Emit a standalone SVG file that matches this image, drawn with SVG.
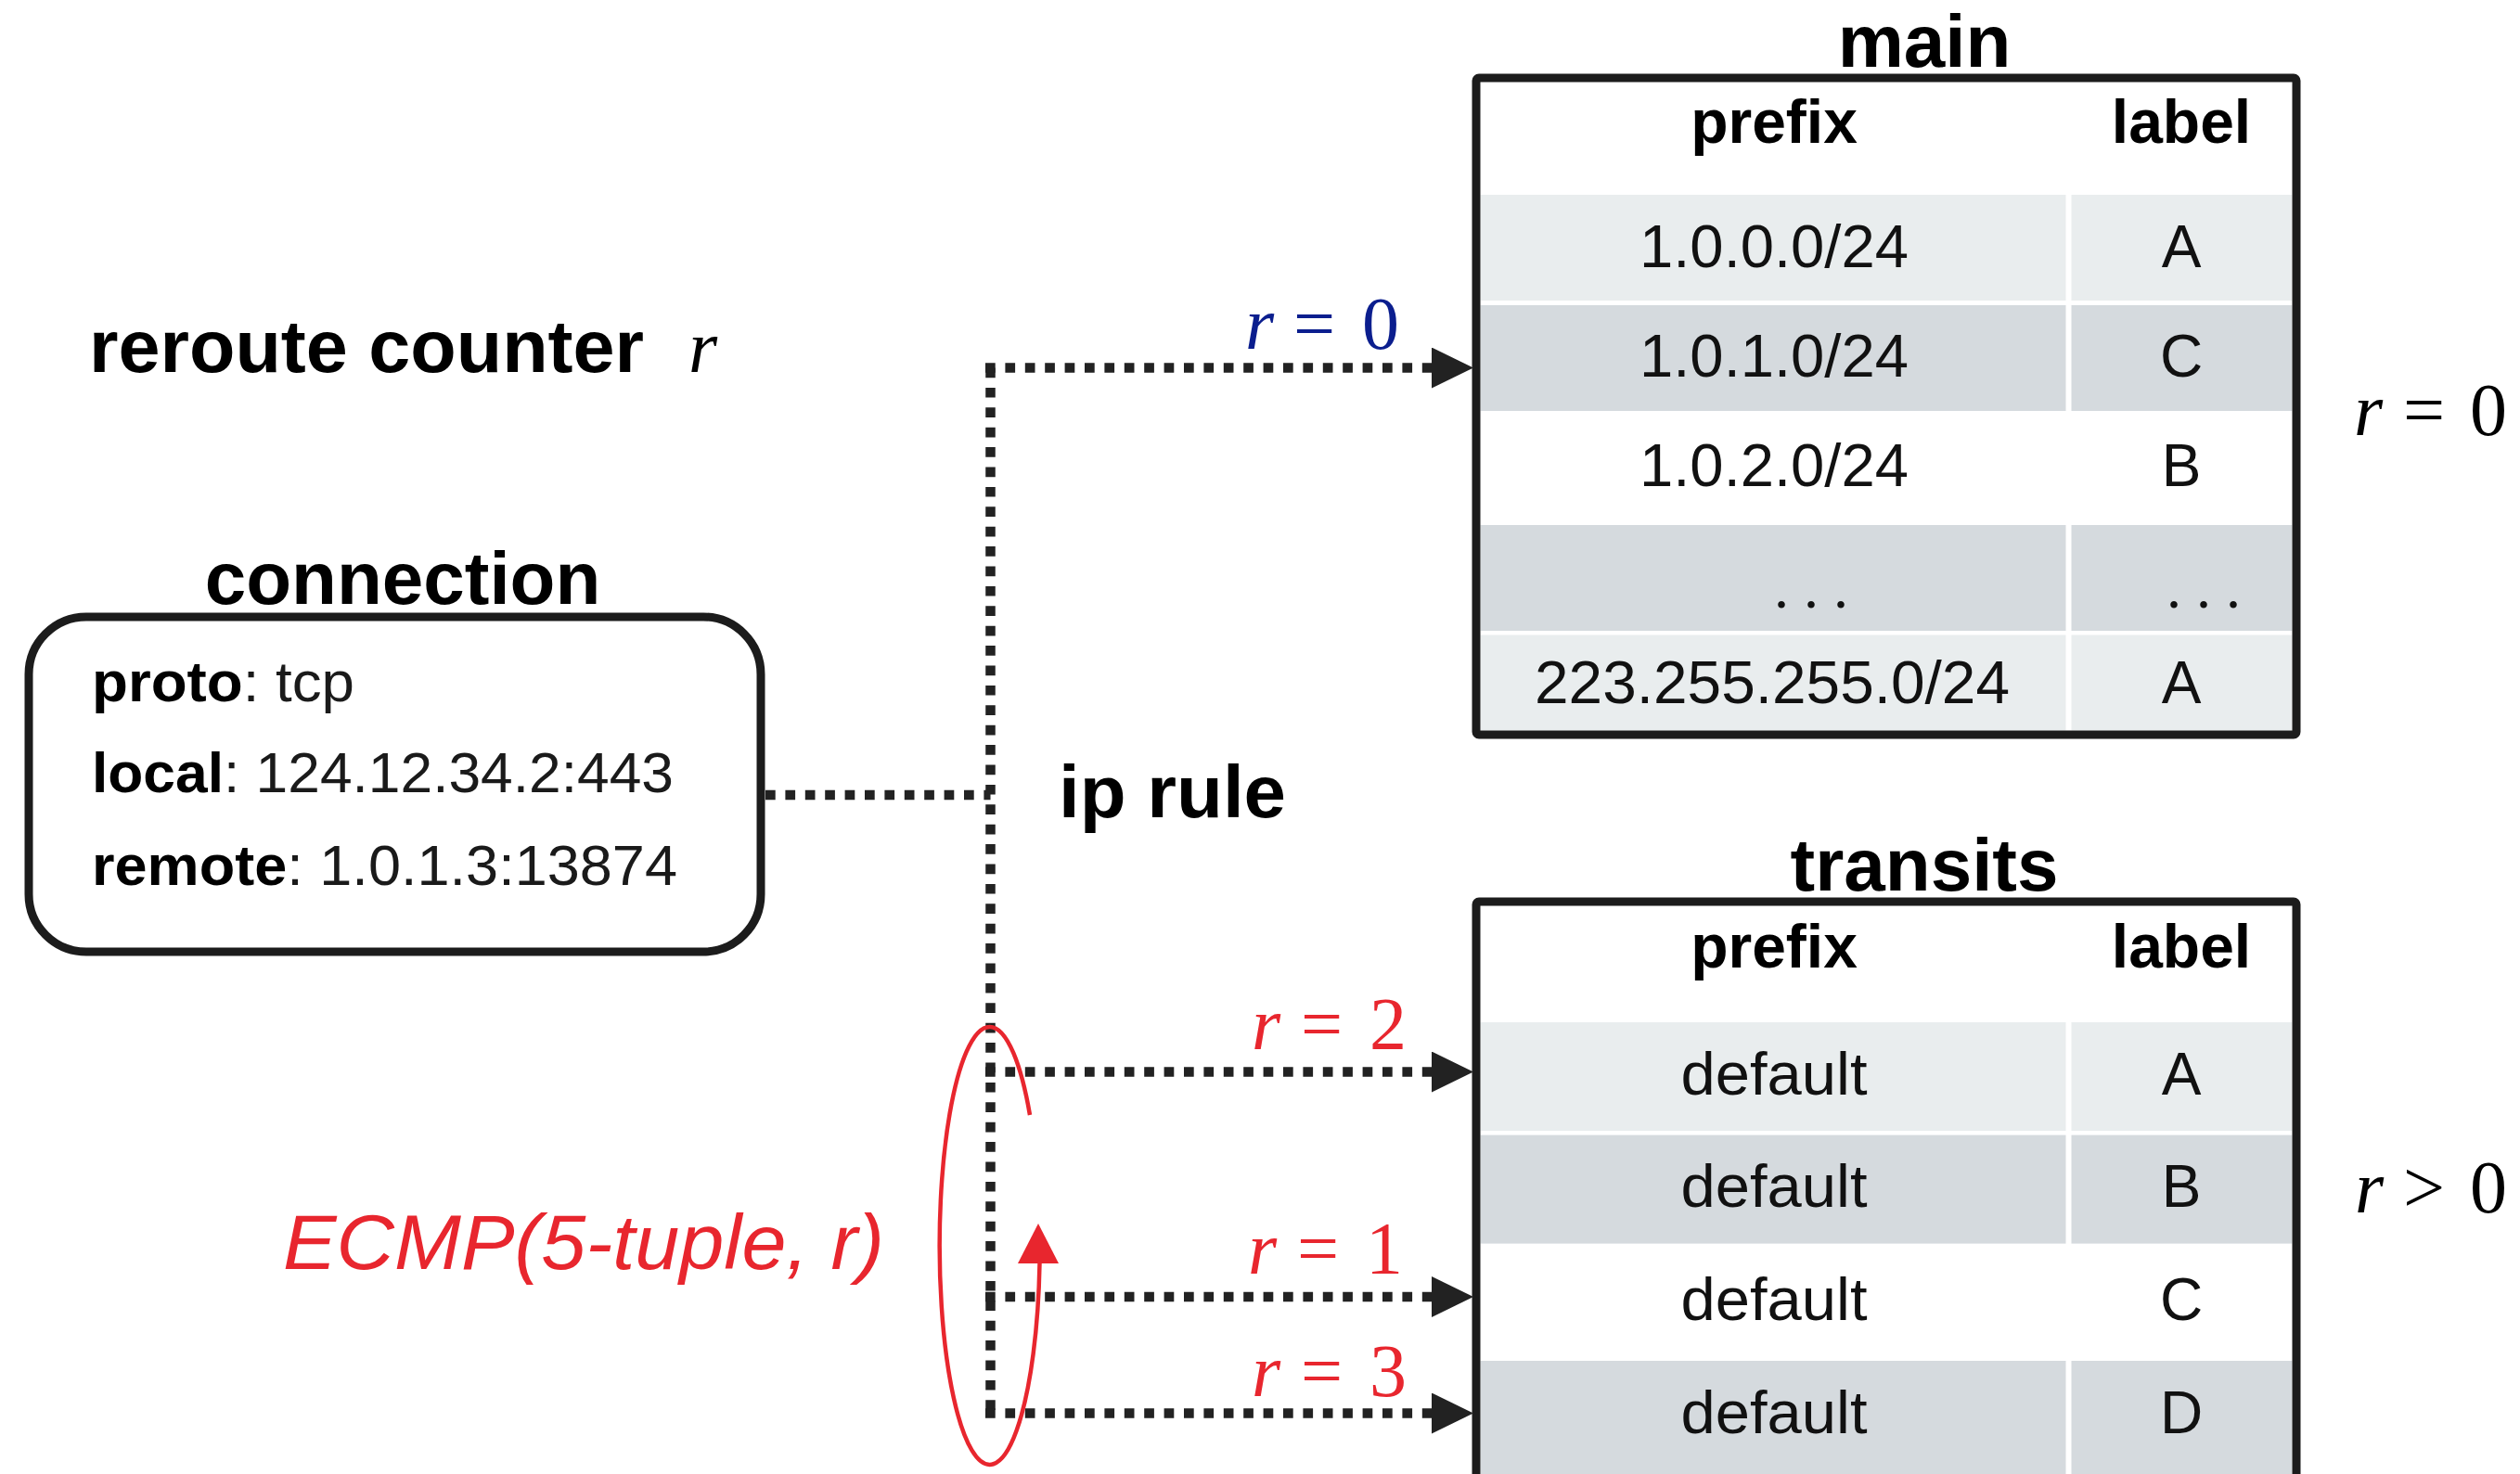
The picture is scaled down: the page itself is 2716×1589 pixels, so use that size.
<svg xmlns="http://www.w3.org/2000/svg" width="2716" height="1589" viewBox="0 0 2716 1589">
  <defs>
    <style>
      .title { font-family: "Liberation Sans", Arial, sans-serif; font-weight: bold; font-size: 80px; fill: #000; }
      .head { font-family: "Liberation Sans", Arial, sans-serif; font-weight: bold; font-size: 66px; fill: #000; text-anchor: middle; }
      .cell { font-family: "Liberation Sans", Arial, sans-serif; font-size: 64px; fill: #111; text-anchor: middle; }
      .dots { font-family: "Liberation Serif", "Times New Roman", serif; font-size: 64px; fill: #111; text-anchor: middle; }
      .field { font-family: "Liberation Sans", Arial, sans-serif; font-size: 62px; fill: #1a1a1a; }
      .field tspan.k { font-weight: bold; fill: #000; }
      .math { font-family: "Liberation Serif", "Times New Roman", serif; font-size: 80px; }
      .math .v { font-style: italic; }
      .light { fill: #E9EDEE; }
      .gray { fill: #D5DADE; }
      .frame { fill: none; stroke: #1c1c1c; stroke-width: 9; }
      .dotted { fill: none; stroke: #222; stroke-width: 10.5; stroke-dasharray: 10.7 10.7; }
      .red { fill: #E8262E; }
    </style>
    <marker id="arrow" viewBox="0 0 45 44" refX="0" refY="22" markerWidth="45" markerHeight="44" markerUnits="userSpaceOnUse" orient="auto">
      <path d="M0,0 L45,22 L0,44 Z" fill="#222"/>
    </marker>
  </defs>

  <rect x="0" y="0" width="2716" height="1589" fill="#fff"/>

  <!-- reroute counter -->
  <g id="reroute-counter">
    <text class="title" x="96" y="401" textLength="598" lengthAdjust="spacingAndGlyphs">reroute counter</text>
    <text class="math" x="742" y="401"><tspan class="v">r</tspan></text>
  </g>

  <!-- connection node -->
  <g id="connection">
    <text class="title" x="434" y="651" text-anchor="middle">connection</text>
    <rect x="31" y="665" width="789" height="361" rx="62" ry="62" fill="#fff" stroke="#1c1c1c" stroke-width="9"/>
    <text class="field" x="99" y="756" textLength="283" lengthAdjust="spacingAndGlyphs"><tspan class="k">proto</tspan>: tcp</text>
    <text class="field" x="99" y="854" textLength="627" lengthAdjust="spacingAndGlyphs"><tspan class="k">local</tspan>: 124.12.34.2:443</text>
    <text class="field" x="99" y="954" textLength="631" lengthAdjust="spacingAndGlyphs"><tspan class="k">remote</tspan>: 1.0.1.3:13874</text>
  </g>

  <!-- ip rule label -->
  <g id="ip-rule">
    <text class="title" x="1141" y="881" textLength="245" lengthAdjust="spacingAndGlyphs">ip rule</text>
  </g>

  <!-- main routing table -->
  <g id="main-table">
    <text class="title" x="2074" y="72" text-anchor="middle">main</text>
    <rect x="1591" y="84" width="884" height="708" fill="#fff"/>
    <rect class="light" x="1595.5" y="210" width="631" height="114"/>
    <rect class="light" x="2232.5" y="210" width="238" height="114"/>
    <rect class="gray" x="1595.5" y="329" width="631" height="114"/>
    <rect class="gray" x="2232.5" y="329" width="238" height="114"/>
    <rect class="gray" x="1595.5" y="566" width="631" height="114"/>
    <rect class="gray" x="2232.5" y="566" width="238" height="114"/>
    <rect class="light" x="1595.5" y="684.5" width="631" height="103"/>
    <rect class="light" x="2232.5" y="684.5" width="238" height="103"/>
    <rect class="frame" x="1591" y="84" width="884" height="708" rx="3"/>
    <text class="head" x="1912" y="154">prefix</text>
    <text class="head" x="2351" y="154">label</text>
    <text class="cell" x="1912" y="288" textLength="290" lengthAdjust="spacingAndGlyphs">1.0.0.0/24</text>
    <text class="cell" x="2351" y="288">A</text>
    <text class="cell" x="1912" y="406" textLength="290" lengthAdjust="spacingAndGlyphs">1.0.1.0/24</text>
    <text class="cell" x="2351" y="406">C</text>
    <text class="cell" x="1912" y="524" textLength="290" lengthAdjust="spacingAndGlyphs">1.0.2.0/24</text>
    <text class="cell" x="2351" y="524">B</text>
    <text class="dots" x="1952" y="655">. . .</text>
    <text class="dots" x="2375" y="655">. . .</text>
    <text class="cell" x="1910" y="758" textLength="512" lengthAdjust="spacingAndGlyphs">223.255.255.0/24</text>
    <text class="cell" x="2351" y="758">A</text>
  </g>

  <!-- transits routing table -->
  <g id="transits-table">
    <text class="title" x="2074" y="960" text-anchor="middle">transits</text>
    <rect x="1591" y="972" width="884" height="700" fill="#fff"/>
    <rect class="light" x="1595.5" y="1102" width="631" height="117"/>
    <rect class="light" x="2232.5" y="1102" width="238" height="117"/>
    <rect class="gray" x="1595.5" y="1223.6" width="631" height="117"/>
    <rect class="gray" x="2232.5" y="1223.6" width="238" height="117"/>
    <rect class="gray" x="1595.5" y="1467" width="631" height="200"/>
    <rect class="gray" x="2232.5" y="1467" width="238" height="200"/>
    <rect class="frame" x="1591" y="972" width="884" height="700" rx="3"/>
    <text class="head" x="1912" y="1043">prefix</text>
    <text class="head" x="2351" y="1043">label</text>
    <text class="cell" x="1912" y="1180" textLength="201" lengthAdjust="spacingAndGlyphs">default</text>
    <text class="cell" x="2351" y="1180">A</text>
    <text class="cell" x="1912" y="1301" textLength="201" lengthAdjust="spacingAndGlyphs">default</text>
    <text class="cell" x="2351" y="1301">B</text>
    <text class="cell" x="1912" y="1423" textLength="201" lengthAdjust="spacingAndGlyphs">default</text>
    <text class="cell" x="2351" y="1423">C</text>
    <text class="cell" x="1912" y="1545" textLength="201" lengthAdjust="spacingAndGlyphs">default</text>
    <text class="cell" x="2351" y="1545">D</text>
  </g>

  <!-- table conditions -->
  <g id="condition-main" class="math" fill="#000">
    <text y="469"><tspan class="v" x="2537">r</tspan><tspan x="2590">=</tspan><tspan x="2662">0</tspan></text>
  </g>
  <g id="condition-transits" class="math" fill="#000">
    <text y="1307"><tspan class="v" x="2538">r</tspan><tspan x="2590">&gt;</tspan><tspan x="2662">0</tspan></text>
  </g>

  <!-- connectors -->
  <g id="connectors">
    <path class="dotted" d="M825,857 H1067.5"/>
    <path class="dotted" d="M1067.5,396.5 V1524"/>
    <path class="dotted" d="M1062,396.5 H1543" marker-end="url(#arrow)"/>
    <path class="dotted" d="M1062,1155.5 H1543" marker-end="url(#arrow)"/>
    <path class="dotted" d="M1062,1398 H1543" marker-end="url(#arrow)"/>
    <path class="dotted" d="M1062,1523.5 H1543" marker-end="url(#arrow)"/>

    <!-- branch conditions -->
    <text class="math" fill="#0B1E8E" y="376"><tspan class="v" x="1342">r</tspan><tspan x="1394">=</tspan><tspan x="1468">0</tspan></text>
    <text class="math" fill="#E8262E" y="1131"><tspan class="v" x="1349">r</tspan><tspan x="1402">=</tspan><tspan x="1476">2</tspan></text>
    <text class="math" fill="#E8262E" y="1373"><tspan class="v" x="1345">r</tspan><tspan x="1398">=</tspan><tspan x="1472">1</tspan></text>
    <text class="math" fill="#E8262E" y="1505"><tspan class="v" x="1349">r</tspan><tspan x="1402">=</tspan><tspan x="1476">3</tspan></text>
  </g>

  <!-- ECMP selection loop -->
  <g id="ecmp">
    <path d="M1110,1202 A54,236 0 1,0 1120.5,1362" fill="none" stroke="#E8262E" stroke-width="4.5"/>
    <polygon class="red" points="1119,1319 1097,1362 1141,1362"/>
    <text x="305" y="1368" font-family="'Liberation Sans', Arial, sans-serif" font-style="italic" font-size="84" textLength="648" lengthAdjust="spacingAndGlyphs" class="red">ECMP(5-tuple, r)</text>
  </g>
</svg>
